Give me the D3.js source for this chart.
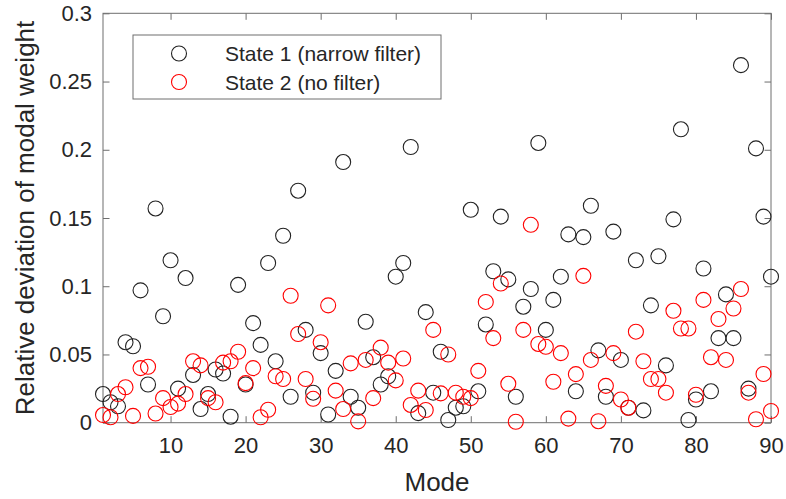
<!DOCTYPE html>
<html>
<head>
<meta charset="utf-8">
<script src="https://cdn.jsdelivr.net/npm/d3@7"></script>
<style>
  body { margin: 0; background: #fff; }
  svg { display: block; font-family: "Liberation Sans", Arial, sans-serif; }
</style>
</head>
<body>
<svg></svg>
<script>
let width = 786,
    height = 499,
    plotLeft = 103,
    plotRight = 771,
    plotTop = 13.3,
    plotBottom = 422.7,
    radius = 7.5,
    tickLen = 6.5

// modal weight deviation, mode 1..90
const narrow = [
  0.021, 0.015, 0.012, 0.059, 0.056, 0.097, 0.028, 0.157, 0.078, 0.119,
  0.025, 0.106, 0.035, 0.010, 0.021, 0.039, 0.036, 0.0044, 0.101, 0.028,
  0.073, 0.057, 0.117, 0.045, 0.137, 0.019, 0.170, 0.068, 0.022, 0.051,
  0.006, 0.038, 0.191, 0.019, 0.011, 0.074, 0.048, 0.028, 0.034, 0.107,
  0.117, 0.202, 0.007, 0.081, 0.022, 0.052, 0.002, 0.011, 0.012, 0.156,
  0.023, 0.072, 0.111, 0.151, 0.105, 0.019, 0.085, 0.098, 0.205, 0.068,
  0.090, 0.107, 0.138, 0.023, 0.136, 0.159, 0.053, 0.019, 0.140, 0.046,
  0.011, 0.119, 0.009, 0.086, 0.122, 0.042, 0.149, 0.215, 0.002, 0.017,
  0.113, 0.023, 0.062, 0.094, 0.062, 0.262, 0.025, 0.201, 0.151, 0.107
]
const noFilter = [
  0.0056, 0.004, 0.021, 0.026, 0.005, 0.040, 0.041, 0.0067, 0.018, 0.0115,
  0.014, 0.021, 0.045, 0.042, 0.018, 0.015, 0.044, 0.045, 0.052, 0.029,
  0.040, 0.004, 0.0095, 0.034, 0.032, 0.093, 0.065, 0.032, 0.0175, 0.059,
  0.086, 0.0235, 0.010, 0.0435, 0.001, 0.046, 0.018, 0.055, 0.044, 0.031,
  0.047, 0.013, 0.0235, 0.0093, 0.068, 0.0215, 0.050, 0.022, 0.019, 0.018,
  0.038, 0.0885, 0.062, 0.102, 0.0285, 0.0007, 0.068, 0.145, 0.0577, 0.0556,
  0.030, 0.051, 0.003, 0.0356, 0.1076, 0.046, 0.0011, 0.027, 0.051, 0.017,
  0.011, 0.0667, 0.045, 0.032, 0.032, 0.022, 0.082, 0.069, 0.069, 0.0205,
  0.090, 0.048, 0.076, 0.046, 0.0837, 0.098, 0.022, 0.0025, 0.0357, 0.0086
]
const xTicks = [10, 20, 30, 40, 50, 60, 70, 80, 90]
const yTicks = [0, 0.05, 0.1, 0.15, 0.2, 0.25, 0.3]
const yTickLabels = ["0", "0.05", "0.1", "0.15", "0.2", "0.25", "0.3"]
const seriesNames = ["State 1 (narrow filter)", "State 2 (no filter)"]
const seriesColors = ["#222", "#ff0000"]

const axisColor = "#6e6e6e",
      textColor = "#262626"

let svg = d3.select("svg")
            .attr("width", width)
            .attr("height", height)

const x = d3.scaleLinear().domain([1, 90]).range([plotLeft, plotRight])
const y = d3.scaleLinear().domain([0, 0.3]).range([plotBottom, plotTop])

const styleAxis = (g, hideText) => {
    g.select(".domain").remove()
    g.selectAll("line").attr("stroke", axisColor)
    g.selectAll("text")
        .attr("fill", textColor)
        .style("font-size", "22px")
    if (hideText) g.selectAll("text").remove()
}

// axes with ticks pointing in, box style
svg.append("g")
    .attr("transform", `translate(0,${plotBottom})`)
    .call(d3.axisBottom(x).tickValues(xTicks).tickSize(-tickLen).tickPadding(15))
    .call(g => styleAxis(g, false))

svg.append("g")
    .attr("transform", `translate(0,${plotTop})`)
    .call(d3.axisTop(x).tickValues(xTicks).tickSize(-tickLen))
    .call(g => styleAxis(g, true))

svg.append("g")
    .attr("transform", `translate(${plotLeft},0)`)
    .call(d3.axisLeft(y).tickValues(yTicks).tickSize(-tickLen).tickPadding(11)
        .tickFormat((d, i) => yTickLabels[i]))
    .call(g => styleAxis(g, false))

svg.append("g")
    .attr("transform", `translate(${plotRight},0)`)
    .call(d3.axisRight(y).tickValues(yTicks).tickSize(-tickLen))
    .call(g => styleAxis(g, true))

svg.append("rect")
    .attr("x", plotLeft)
    .attr("y", plotTop)
    .attr("width", plotRight - plotLeft)
    .attr("height", plotBottom - plotTop)
    .attr("fill", "none")
    .attr("stroke", axisColor)
    .attr("stroke-width", 1)

// markers
const drawSeries = (values, color) => {
    svg.append("g")
        .selectAll("circle")
        .data(values)
        .enter()
        .append("circle")
        .attr("cx", (d, i) => x(i + 1))
        .attr("cy", d => y(d))
        .attr("r", radius)
        .attr("fill", "none")
        .attr("stroke", color)
        .attr("stroke-width", 1.1)
}

drawSeries(narrow, seriesColors[0])
drawSeries(noFilter, seriesColors[1])

// axis labels
svg.append("text")
    .attr("x", (plotLeft + plotRight) / 2)
    .attr("y", 491)
    .attr("text-anchor", "middle")
    .attr("fill", textColor)
    .style("font-size", "26px")
    .text("Mode")

svg.append("text")
    .attr("transform", `translate(34,${(plotTop + plotBottom) / 2}) rotate(-90)`)
    .attr("text-anchor", "middle")
    .attr("fill", textColor)
    .style("font-size", "26px")
    .text("Relative deviation of modal weight")

// legend
let legend = svg.append("g")

legend.append("rect")
    .attr("x", 133)
    .attr("y", 35)
    .attr("width", 308)
    .attr("height", 64)
    .attr("fill", "#fff")
    .attr("stroke", axisColor)
    .attr("stroke-width", 1)

seriesNames.forEach((name, i) => {
    let rowY = 53.5 + i * 28.5
    legend.append("circle")
        .attr("cx", 179)
        .attr("cy", rowY)
        .attr("r", radius)
        .attr("fill", "none")
        .attr("stroke", seriesColors[i])
        .attr("stroke-width", 1.1)

    legend.append("text")
        .attr("x", 225)
        .attr("y", rowY + 7.5)
        .attr("fill", textColor)
        .style("font-size", "21px")
        .text(name)
})
</script>
</body>
</html>
